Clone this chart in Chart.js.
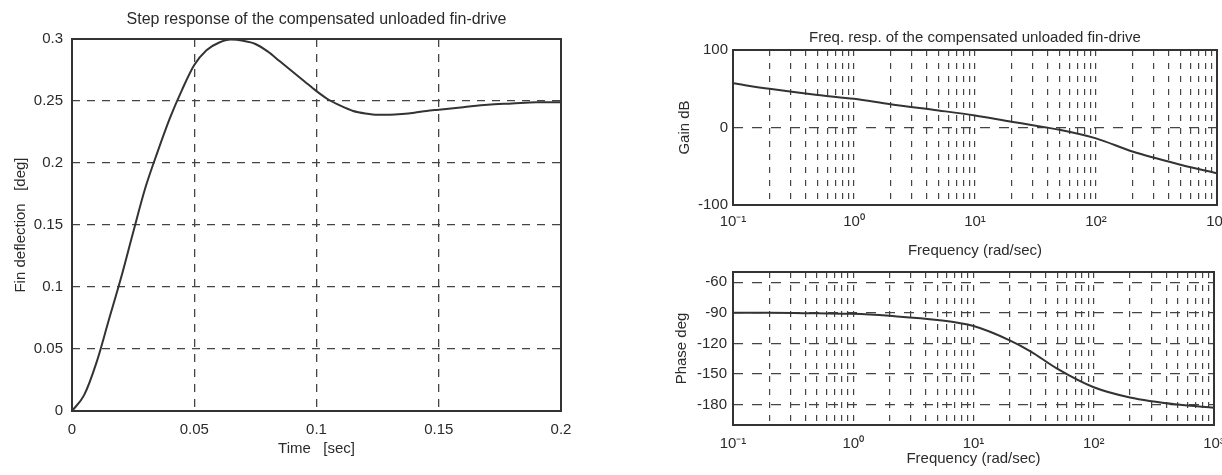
<!DOCTYPE html>
<html><head><meta charset="utf-8">
<script src="https://cdn.jsdelivr.net/npm/chart.js@4/dist/chart.umd.min.js"></script>
<style>
html,body{margin:0;padding:0;background:#fff;overflow:hidden;width:1222px;height:475px;position:relative;}
canvas{position:absolute;display:block;}
</style></head><body>
<canvas id="step" width="600" height="475" style="left:0;top:0"></canvas>
<canvas id="gain" width="660" height="262" style="left:600px;top:0"></canvas>
<canvas id="phase" width="660" height="213" style="left:600px;top:262px"></canvas>
<script>
// ---- data ----
const stepTime = [0,0.005,0.01,0.015,0.02,0.025,0.03,0.035,0.04,0.045,0.05,0.055,0.06,0.065,0.07,0.075,0.08,0.085,0.09,0.095,0.1,0.105,0.11,0.115,0.12,0.125,0.13,0.135,0.14,0.145,0.15,0.16,0.17,0.18,0.19,0.2];
const stepDeflection = [0,0.013,0.039,0.073,0.107,0.144,0.180,0.209,0.236,0.259,0.279,0.291,0.297,0.2995,0.2985,0.296,0.290,0.282,0.274,0.266,0.258,0.251,0.246,0.242,0.240,0.239,0.239,0.2395,0.2405,0.242,0.243,0.245,0.247,0.248,0.249,0.249];
const stepXTicks = [0,0.05,0.1,0.15,0.2];
const stepYTicks = [0,0.05,0.1,0.15,0.2,0.25,0.3];

const freq = [0.1,0.2,0.5,1,2,5,10,20,30,50,100,200,500,1000];
const gainDb = [57,50,42,37,30,22,15.5,7.5,3,-3,-14,-31,-48,-59];
const phaseDeg = [-90,-90,-90.5,-91,-93,-97,-103,-117,-128,-145,-163,-173,-180,-183];
const gainYTicks = [-100,0,100];
const phaseYTicks = [-180,-150,-120,-90,-60];
const decadeExponents = [-1,0,1,2,3];
const decadeTickLabels = ['10\u207B\u00B9','10\u2070','10\u00B9','10\u00B2','10\u00B3'];

// ---- styling ----
const INK = '#2b2b2b';
const FONT = "'Liberation Sans', Arial, sans-serif";
Chart.defaults.font.family = FONT;
Chart.defaults.color = INK;
Chart.defaults.animation = false;

const framePlugin = {
  id: 'frame',
  afterDraw(chart) {
    const a = chart.chartArea, ctx = chart.ctx;
    ctx.save();
    ctx.strokeStyle = '#333';
    ctx.lineWidth = 2;
    ctx.strokeRect(a.left, a.top, a.right - a.left, a.bottom - a.top);
    ctx.restore();
  }
};

function fixed(v) { return s => { s.ticks = v.map(x => ({ value: x })); }; }
function fitW(w) { return s => { s.width = w; s.paddingTop = 0; s.paddingBottom = 0; }; }
function fitH(h) { return s => { s.height = h; }; }

// log grid values 1..9 x 10^n built from decade exponents
const logGrid = [];
decadeExponents.forEach((e, i) => {
  if (i === decadeExponents.length - 1) { logGrid.push(Math.pow(10, e)); return; }
  for (let k = 1; k <= 9; k++) logGrid.push(Number((k * Math.pow(10, e)).toPrecision(3)));
});
function decadeLabel(v) {
  const l = Math.log10(v), r = Math.round(l);
  if (Math.abs(l - r) > 1e-9) return '';
  const idx = decadeExponents.indexOf(r);
  return idx >= 0 ? decadeTickLabels[idx] : '';
}

// ---- Step response ----
new Chart(document.getElementById('step'), {
  type: 'line',
  data: { datasets: [{
    data: stepTime.map((t, i) => ({ x: t, y: stepDeflection[i] })),
    borderColor: '#333', borderWidth: 2, pointRadius: 0, cubicInterpolationMode: 'monotone', fill: false
  }]},
  options: {
    responsive: false,
    layout: { padding: { left: 0, top: 0, right: 39, bottom: 0 } },
    plugins: {
      legend: { display: false }, tooltip: { enabled: false },
      title: { display: true, fullSize: false, text: 'Step response of the compensated unloaded fin-drive',
        font: { size: 16, weight: 'normal' }, color: INK, padding: { top: 10, bottom: 9.8 } }
    },
    scales: {
      x: { type: 'linear', min: 0, max: 0.2,
        afterBuildTicks: fixed(stepXTicks), afterFit: fitH(64),
        ticks: { autoSkip: false, maxRotation: 0, padding: 10, font: { size: 15 }, color: INK, callback: v => String(v) },
        grid: { color: '#444', lineWidth: 1.3, drawTicks: false },
        border: { display: false, dash: [8, 7] },
        title: { display: true, text: 'Time   [sec]', font: { size: 15 }, color: INK, padding: { top: 0, bottom: 17 } }
      },
      y: { type: 'linear', min: 0, max: 0.3,
        afterBuildTicks: fixed(stepYTicks), afterFit: fitW(72),
        ticks: { autoSkip: false, padding: 9, font: { size: 15 }, color: INK, callback: v => String(v) },
        grid: { color: '#444', lineWidth: 1.3, drawTicks: false },
        border: { display: false, dash: [8, 7] },
        title: { display: true, text: 'Fin deflection   [deg]', font: { size: 15 }, color: INK, padding: { top: 12, bottom: 0 } }
      }
    }
  },
  plugins: [framePlugin]
});

// ---- Gain ----
new Chart(document.getElementById('gain'), {
  type: 'line',
  data: { datasets: [{
    data: freq.map((f, i) => ({ x: f, y: gainDb[i] })),
    borderColor: '#333', borderWidth: 2, pointRadius: 0, cubicInterpolationMode: 'monotone', fill: false
  }]},
  options: {
    responsive: false,
    layout: { padding: { left: 0, top: 0, right: 43, bottom: 0 } },
    plugins: {
      legend: { display: false }, tooltip: { enabled: false },
      title: { display: true, fullSize: false, text: 'Freq. resp. of the compensated unloaded fin-drive',
        font: { size: 15, weight: 'normal' }, color: INK, padding: { top: 28.5, bottom: 3.5 } }
    },
    scales: {
      x: { type: 'logarithmic', min: 0.1, max: 1000,
        afterBuildTicks: fixed(logGrid), afterFit: fitH(57),
        ticks: { autoSkip: false, maxRotation: 0, padding: 8, font: { size: 15 }, color: INK, callback: v => decadeLabel(v) },
        grid: { color: '#444', lineWidth: 1.2, drawTicks: false },
        border: { display: false, dash: [6, 7] },
        title: { display: true, text: 'Frequency (rad/sec)', font: { size: 15 }, color: INK, padding: { top: 0, bottom: 2 } }
      },
      y: { type: 'linear', min: -100, max: 100,
        afterBuildTicks: fixed(gainYTicks), afterFit: fitW(133),
        ticks: { autoSkip: false, padding: 5, font: { size: 15 }, color: INK, callback: v => String(v) },
        grid: { color: '#444', lineWidth: 1.3, drawTicks: false },
        border: { display: false, dash: [10, 9] },
        title: { display: true, text: 'Gain dB', font: { size: 15 }, color: INK, padding: { top: 76, bottom: 0 } }
      }
    }
  },
  plugins: [framePlugin]
});

// ---- Phase ----
new Chart(document.getElementById('phase'), {
  type: 'line',
  data: { datasets: [{
    data: freq.map((f, i) => ({ x: f, y: phaseDeg[i] })),
    borderColor: '#333', borderWidth: 2, pointRadius: 0, cubicInterpolationMode: 'monotone', fill: false
  }]},
  options: {
    responsive: false,
    layout: { padding: { left: 0, top: 10, right: 46, bottom: 0 } },
    plugins: { legend: { display: false }, tooltip: { enabled: false }, title: { display: false } },
    scales: {
      x: { type: 'logarithmic', min: 0.1, max: 1000,
        afterBuildTicks: fixed(logGrid), afterFit: fitH(50),
        ticks: { autoSkip: false, maxRotation: 0, padding: 10, font: { size: 15 }, color: INK, callback: v => decadeLabel(v) },
        grid: { color: '#444', lineWidth: 1.2, drawTicks: false },
        border: { display: false, dash: [6, 7] },
        title: { display: true, text: 'Frequency (rad/sec)', font: { size: 15 }, color: INK, padding: { top: 0, bottom: 7 } }
      },
      y: { type: 'linear', min: -200, max: -50,
        afterBuildTicks: fixed(phaseYTicks), afterFit: fitW(133),
        ticks: { autoSkip: false, padding: 6, font: { size: 15 }, color: INK, callback: v => String(v) },
        grid: { color: '#444', lineWidth: 1.3, drawTicks: false },
        border: { display: false, dash: [10, 9] },
        title: { display: true, text: 'Phase deg', font: { size: 15 }, color: INK, padding: { top: 73, bottom: 0 } }
      }
    }
  },
  plugins: [framePlugin]
});
</script>
</body></html>
